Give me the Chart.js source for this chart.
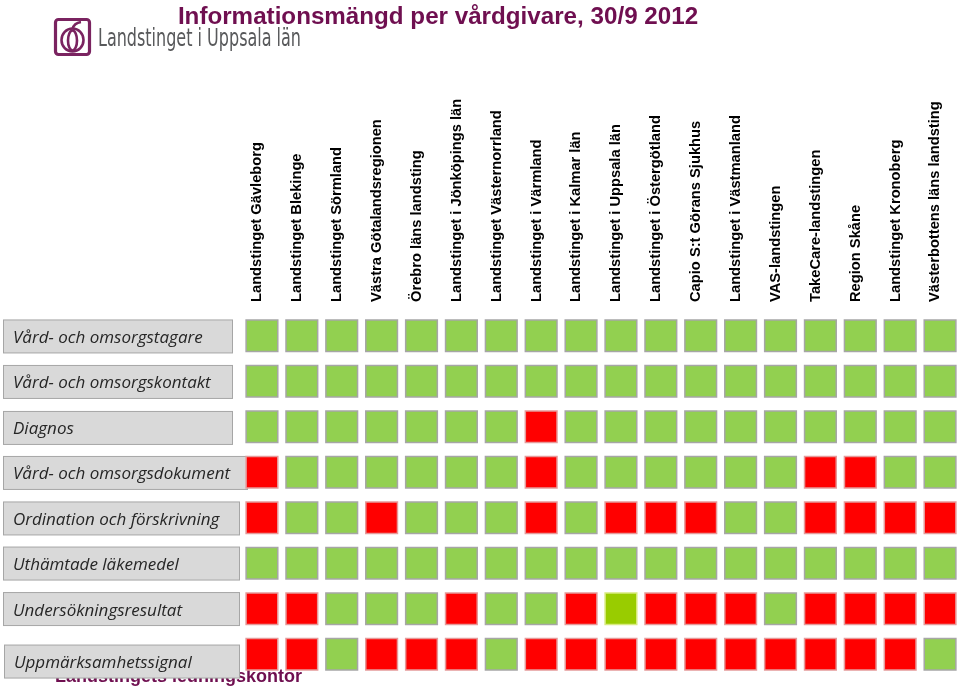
<!DOCTYPE html>
<html>
<head>
<meta charset="utf-8">
<script src="https://cdn.jsdelivr.net/npm/chart.js@4.4.1/dist/chart.umd.min.js"></script>
<style>
  html, body { margin: 0; padding: 0; background: #ffffff; }
  #wrap { position: relative; width: 960px; height: 687px; }
</style>
</head>
<body>
<div id="wrap"><canvas id="c" width="960" height="687"></canvas></div>
<script>
// ---------- data ----------
const chartTitle = 'Informationsmängd per vårdgivare, 30/9 2012';
const orgName = 'Landstinget i Uppsala län';
const footerText = 'Landstingets ledningskontor';

const providers = [
  'Landstinget Gävleborg', 'Landstinget Blekinge', 'Landstinget Sörmland',
  'Västra Götalandsregionen', 'Örebro läns landsting', 'Landstinget i Jönköpings län',
  'Landstinget Västernorrland', 'Landstinget i Värmland', 'Landstinget i Kalmar län',
  'Landstinget i Uppsala län', 'Landstinget i Östergötland', 'Capio S:t Görans Sjukhus',
  'Landstinget i Västmanland', 'VAS-landstingen', 'TakeCare-landstingen',
  'Region Skåne', 'Landstinget Kronoberg', 'Västerbottens läns landsting'
];

const infoTypes = [
  'Vård- och omsorgstagare', 'Vård- och omsorgskontakt', 'Diagnos',
  'Vård- och omsorgsdokument', 'Ordination och förskrivning', 'Uthämtade läkemedel',
  'Undersökningsresultat', 'Uppmärksamhetssignal'
];

// G = levereras, R = levereras ej, L = delvis
const vardOchOmsorgstagare   = ['G','G','G','G','G','G','G','G','G','G','G','G','G','G','G','G','G','G'];
const vardOchOmsorgskontakt  = ['G','G','G','G','G','G','G','G','G','G','G','G','G','G','G','G','G','G'];
const diagnos                = ['G','G','G','G','G','G','G','R','G','G','G','G','G','G','G','G','G','G'];
const vardOchOmsorgsdokument = ['R','G','G','G','G','G','G','R','G','G','G','G','G','G','R','R','G','G'];
const ordinationForskrivning = ['R','G','G','R','G','G','G','R','G','R','R','R','G','G','R','R','R','R'];
const uthamtadeLakemedel     = ['G','G','G','G','G','G','G','G','G','G','G','G','G','G','G','G','G','G'];
const undersokningsresultat  = ['R','R','G','G','G','R','G','G','R','L','R','R','R','G','R','R','R','R'];
const uppmarksamhetssignal   = ['R','R','G','R','R','R','G','R','R','R','R','R','R','R','R','R','R','G'];

const statusRows = [
  vardOchOmsorgstagare, vardOchOmsorgskontakt, diagnos, vardOchOmsorgsdokument,
  ordinationForskrivning, uthamtadeLakemedel, undersokningsresultat, uppmarksamhetssignal
];

// ---------- styles ----------
const statusStyle = {
  G: { label: 'Levereras', fill: '#92d050', border: '#a6a6a6' },
  R: { label: 'Levereras ej', fill: '#ff0000', border: '#e59a9a' },
  L: { label: 'Delvis', fill: '#99cc00', border: '#d8ea80' }
};
const boxWidths = [229, 229, 229, 244, 236, 236, 236, 235];
const boxShift  = [0.7, 0.7, 1.2, 0.7, 0.7, 0.3, 0.3, 7.3];

const datasets = Object.keys(statusStyle).map(code => ({
  label: statusStyle[code].label,
  data: statusRows.flatMap((row, r) =>
    row.map((s, c) => s === code ? { x: providers[c], y: infoTypes[r] } : null).filter(p => p)),
  pointStyle: 'rect',
  pointRadius: 22.4,
  pointHoverRadius: 22.4,
  backgroundColor: statusStyle[code].fill,
  borderColor: statusStyle[code].border,
  borderWidth: 1.5
}));

const decorPlugin = {
  id: 'decor',
  beforeDraw(chart) {
    const ctx = chart.ctx;
    const ys = chart.scales.y;
    ctx.save();
    ctx.fillStyle = '#ffffff';
    ctx.fillRect(0, 0, chart.width, chart.height);

    // title
    ctx.fillStyle = '#6f0f50';
    ctx.font = 'bold 24.2px "Liberation Sans", Arial, sans-serif';
    ctx.textAlign = 'center';
    ctx.textBaseline = 'alphabetic';
    ctx.fillText(chartTitle, 438, 24);

    // logo
    ctx.strokeStyle = '#7a2360';
    ctx.lineWidth = 3.2;
    ctx.beginPath();
    ctx.roundRect(55.5, 19.5, 34, 35, 3);
    ctx.stroke();
    ctx.lineWidth = 2.6;
    ctx.beginPath();
    ctx.ellipse(72.5, 40, 11, 11.5, 0, 0, Math.PI * 2);
    ctx.stroke();
    ctx.beginPath();
    ctx.ellipse(72.5, 40.5, 4.5, 10, 0, 0, Math.PI * 2);
    ctx.stroke();
    ctx.beginPath();
    ctx.moveTo(72.5, 29);
    ctx.quadraticCurveTo(74, 23, 81, 22);
    ctx.stroke();

    ctx.fillStyle = '#58595b';
    ctx.font = '24px "Liberation Sans Narrow", "DejaVu Sans Condensed", sans-serif';
    ctx.textAlign = 'left';
    ctx.fillText(orgName, 98, 46, 203);

    // footer text (partly hidden behind the last label box)
    ctx.fillStyle = '#6f0f50';
    ctx.font = 'bold 18px "Liberation Sans", Arial, sans-serif';
    ctx.fillText(footerText, 55, 682);

    // row label boxes
    infoTypes.forEach((name, i) => {
      const cy = ys.getPixelForValue(i) + boxShift[i];
      const x0 = i === 7 ? 4.5 : 3.5;
      ctx.fillStyle = '#d9d9d9';
      ctx.strokeStyle = '#a6a6a6';
      ctx.lineWidth = 1;
      ctx.fillRect(x0, cy - 16.5, boxWidths[i], 33);
      ctx.strokeRect(x0, cy - 16.5, boxWidths[i], 33);
      ctx.fillStyle = '#262626';
      ctx.font = 'italic 17px "Open Sans", "Noto Sans", sans-serif';
      ctx.textAlign = 'left';
      ctx.textBaseline = 'alphabetic';
      ctx.fillText(name, x0 + 9.5, cy + 6.5);
    });
    ctx.restore();
  }
};

new Chart(document.getElementById('c'), {
  type: 'scatter',
  data: { datasets },
  options: {
    responsive: false,
    animation: false,
    events: [],
    layout: { autoPadding: false, padding: { left: 13, top: 95, right: 0, bottom: 10 } },
    plugins: { legend: { display: false }, tooltip: { enabled: false } },
    scales: {
      x: {
        type: 'category',
        labels: providers,
        position: 'top',
        offset: true,
        grid: { display: false, drawTicks: false },
        border: { display: false },
        ticks: {
          autoSkip: false,
          minRotation: 90,
          maxRotation: 90,
          padding: 11,
          labelOffset: 13,
          color: '#000000',
          font: { family: '"Liberation Sans", Arial, sans-serif', size: 14.7, weight: 'bold' }
        },
        afterFit(scale) { scale.height = 218; }
      },
      y: {
        type: 'category',
        labels: infoTypes,
        offset: true,
        grid: { display: false, drawTicks: false },
        border: { display: false },
        ticks: { display: false },
        afterFit(scale) { scale.width = 229; }
      }
    }
  },
  plugins: [decorPlugin]
});
</script>
</body>
</html>
